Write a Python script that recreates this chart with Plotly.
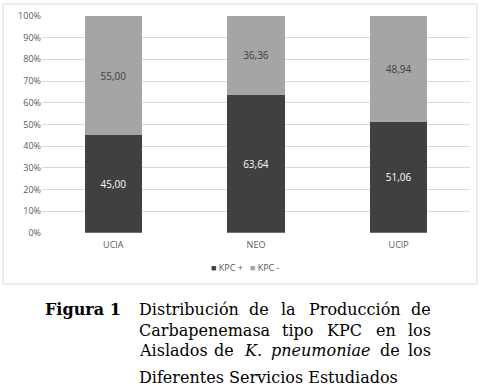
import plotly.graph_objects as go

categories = ["UCIA", "NEO", "UCIP"]
kpc_pos = [45.00, 63.64, 51.06]
kpc_neg = [55.00, 36.36, 48.94]
series_names = ["KPC +", "KPC -"]
series_colors = ["#404040", "#a5a5a5"]
caption_label = "Figura 1"
caption_lines = [
    ["Distribución", "de", "la", "Producción", "de"],
    ["Carbapenemasa", "tipo", "KPC", "en", "los"],
    ["Aislados", "de", "<i>K.</i>", "<i>pneumoniae</i>", "de", "los"],
    ["Diferentes Servicios Estudiados"],
]

W, H = 485, 388

def fmt(v):
    return f"{v:.2f}".replace(".", ",")

fig = go.Figure()
fig.add_trace(go.Bar(
    x=categories, y=kpc_pos, name=series_names[0],
    marker=dict(color=series_colors[0], line=dict(width=0)),
    text=[fmt(v) for v in kpc_pos], textposition="inside",
    insidetextanchor="middle",
    textfont=dict(color="white", size=10, family="Open Sans"),
    width=0.4, showlegend=False, hoverinfo="skip",
))
fig.add_trace(go.Bar(
    x=categories, y=kpc_neg, name=series_names[1],
    marker=dict(color=series_colors[1], line=dict(width=0)),
    text=[fmt(v) for v in kpc_neg], textposition="inside",
    insidetextanchor="middle",
    textfont=dict(color="#404040", size=10, family="Open Sans"),
    width=0.4, showlegend=False, hoverinfo="skip",
))

x0, x1 = 42, 470
ytop, ybot = 16, 232.7

fig.update_layout(
    width=W, height=H, barmode="stack",
    margin=dict(l=0, r=0, t=0, b=0, pad=0, autoexpand=False),
    paper_bgcolor="white", plot_bgcolor="white",
    font=dict(family="Open Sans", size=9, color="#595959"),
    showlegend=False,
    xaxis=dict(domain=[x0 / W, x1 / W], showgrid=False, showline=False,
               ticks="", automargin=False, ticklabelstandoff=5,
               tickfont=dict(size=9, color="#595959")),
    yaxis=dict(domain=[1 - ybot / H, 1 - ytop / H], range=[0, 100],
               dtick=10, ticksuffix="%", showgrid=True, gridcolor="#d9d9d9",
               gridwidth=1, zeroline=False, showline=False, ticks="",
               automargin=False,
               tickfont=dict(size=9, color="#595959")),
    uniformtext=dict(mode="show", minsize=9),
)

fig.add_shape(type="rect", xref="paper", yref="paper",
              x0=3 / W, x1=477 / W, y0=1 - 284 / H, y1=1 - 4 / H,
              line=dict(color="#d9d9d9", width=1), fillcolor="rgba(0,0,0,0)",
              layer="below")

# legend drawn as a single text line
leg = "   ".join(
    f'<span style="color:{c}">■</span> {n}' for n, c in zip(series_names, series_colors)
)
fig.add_annotation(text=leg, xref="paper", yref="paper", x=245 / W, y=1 - 267.5 / H,
                   xanchor="center", yanchor="middle", showarrow=False,
                   font=dict(family="Open Sans", size=9, color="#595959"))

# caption (justified by word placement)
serif = "DejaVu Serif"
FS = 16
TXT = "#000000"
CW = {
    'a': .596, 'b': .640, 'c': .560, 'd': .640, 'e': .592, 'f': .370, 'g': .640,
    'h': .644, 'i': .320, 'j': .310, 'k': .610, 'l': .320, 'm': .948, 'n': .644,
    'o': .602, 'ó': .602, 'p': .640, 'r': .478, 's': .513, 't': .402, 'u': .644,
    'v': .565, 'y': .565, 'A': .722, 'C': .734, 'D': .830, 'E': .730, 'K': .775,
    'P': .733, 'S': .685, 'F': .694, '.': .318, ' ': .318,
}

def wwidth(word):
    plain = word.replace("<i>", "").replace("</i>", "")
    return sum(CW.get(ch, .6) for ch in plain) * FS

fig.add_annotation(text=f"<b>{caption_label}</b>", xref="paper", yref="paper",
                   x=43 / W, y=1 - 309 / H, xanchor="left", yanchor="middle",
                   showarrow=False, font=dict(family=serif, size=FS, color=TXT))

left, right = 137, 433
ys = [309, 330, 350, 377]
for words, yy in zip(caption_lines, ys):
    if len(words) == 1:
        fig.add_annotation(text=words[0], xref="paper", yref="paper",
                           x=left / W, y=1 - yy / H, xanchor="left", yanchor="middle",
                           showarrow=False, font=dict(family=serif, size=FS, color=TXT))
        continue
    widths = [wwidth(w) for w in words]
    gap = (right - left - sum(widths)) / (len(words) - 1)
    xpos = left
    for i, (w, wd) in enumerate(zip(words, widths)):
        if i == 0:
            xa, anchor = xpos, "left"
        elif i == len(words) - 1:
            xa, anchor = right, "right"
        else:
            xa, anchor = xpos + wd / 2, "center"
        fig.add_annotation(text=w, xref="paper", yref="paper",
                           x=xa / W, y=1 - yy / H, xanchor=anchor, yanchor="middle",
                           showarrow=False,
                           font=dict(family=serif, size=FS, color=TXT))
        xpos += wd + gap

fig.write_html("out.html", config={"displayModeBar": False},
               post_script="document.body.style.margin='0';")
